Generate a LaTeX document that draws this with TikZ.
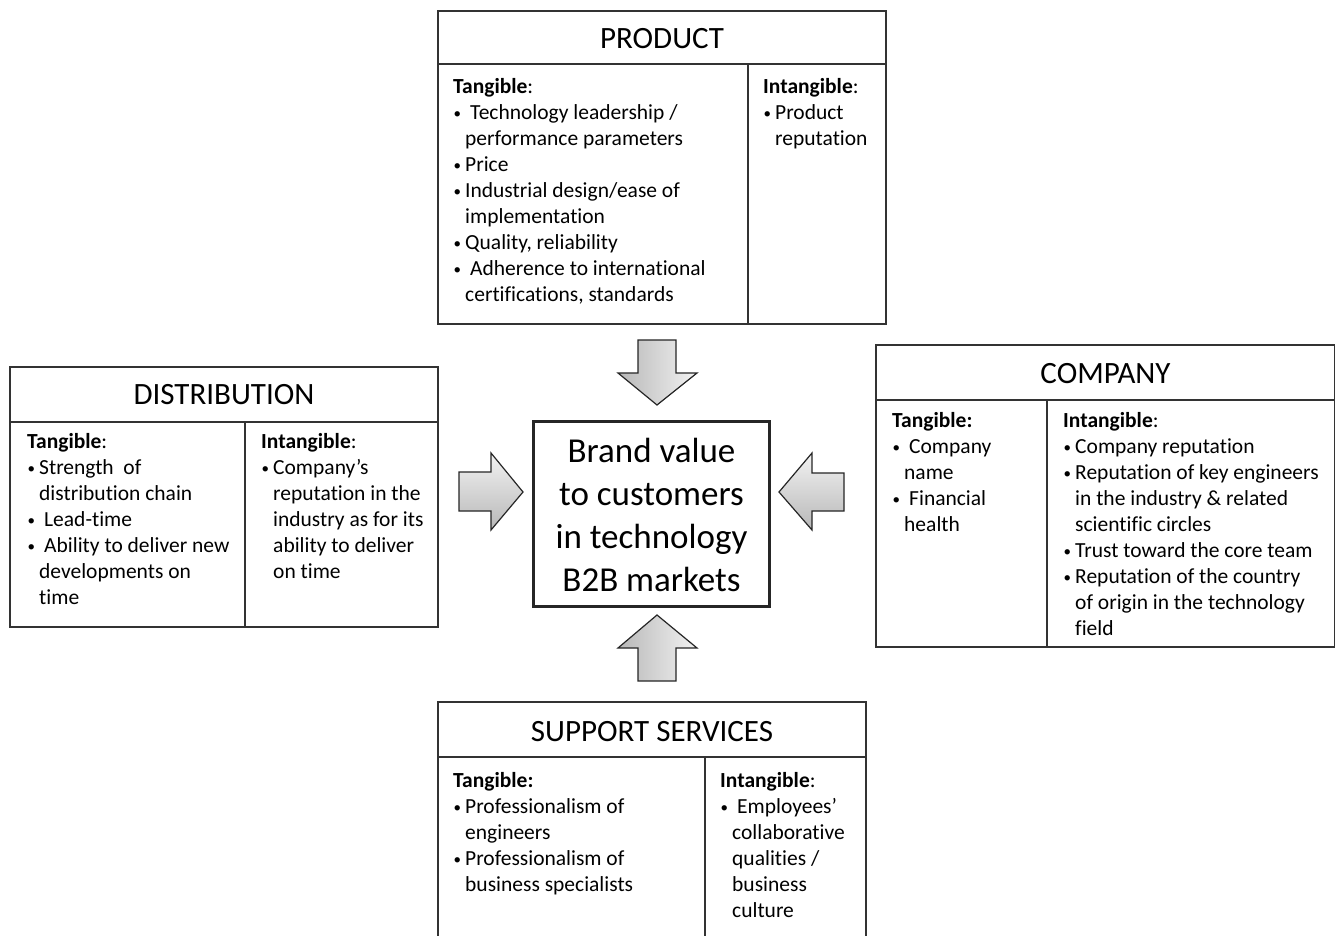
\documentclass[tikz,border=0pt]{standalone}
\usepackage{fontspec}
\setmainfont{Carlito}[RawFeature={-liga}]
\newcommand{\bodyfont}{\fontsize{21.5}{26}\selectfont}
\newcommand{\titlefont}{\fontsize{31}{37}\selectfont}
\newcommand{\bigfont}{\fontsize{35}{43}\selectfont}
\newcommand{\mybul}{\makebox[12pt][l]{\hspace*{0.5pt}\raisebox{0.5pt}{\fontsize{15}{15}\selectfont •}}}
\newcommand{\myind}{\hspace*{12pt}}
\newcommand{\myxs}{\hspace*{5pt}}
\tikzset{
  boxline/.style={draw=black!80, line width=1.5pt},
  coltext/.style={anchor=north west, inner sep=0pt, align=left, font=\bodyfont},
  titletext/.style={inner sep=0pt, font=\titlefont},
  vblock/.style={draw=black!85, line width=1.2pt, left color=black!28, right color=black!5},
  hblock/.style={draw=black!85, line width=1.2pt, top color=black!5, bottom color=black!28},
}
\begin{document}
\begin{tikzpicture}[x=1pt,y=-1pt]
\useasboundingbox (0,0) rectangle (1336,936);
\fill[white] (0,0) rectangle (1336,936);

% PRODUCT
\draw[boxline] (438,11) rectangle (886,324);
\draw[boxline] (438,64) -- (886,64);
\draw[boxline] (748,64) -- (748,324);
\node[titletext] (prodtitle) at (662,39) {PRODUCT};
\node[coltext] (prodtan) at (453,74.8) {\strut\textbf{Tangible}:\\
\mybul\myxs Technology leadership /\\
\myind performance parameters\\
\mybul Price\\
\mybul Industrial design/ease of\\
\myind implementation\\
\mybul Quality, reliability\\
\mybul\myxs Adherence to international\\
\myind certifications, standards};
\node[coltext] (prodint) at (763,74.8) {\strut\textbf{Intangible}:\\
\mybul Product\\
\myind reputation};

% DISTRIBUTION
\draw[boxline] (10,367) rectangle (438,627);
\draw[boxline] (10,422) -- (438,422);
\draw[boxline] (245,422) -- (245,627);
\node[titletext] (disttitle) at (224,395) {DISTRIBUTION};
\node[coltext] (disttan) at (27,429.8) {\strut\textbf{Tangible}:\\
\mybul Strength\ \ of\\
\myind distribution chain\\
\mybul\myxs Lead-time\\
\mybul\myxs Ability to deliver new\\
\myind developments on\\
\myind time};
\node[coltext] (distint) at (261,429.8) {\strut\textbf{Intangible}:\\
\mybul Company’s\\
\myind reputation in the\\
\myind industry as for its\\
\myind ability to deliver\\
\myind on time};

% COMPANY
\draw[boxline] (876,345) rectangle (1334.5,647);
\draw[boxline] (876,400) -- (1334.5,400);
\draw[boxline] (1047,400) -- (1047,647);
\node[titletext] (comptitle) at (1105.5,374) {COMPANY};
\node[coltext] (comptan) at (892,408.8) {\strut\textbf{Tangible:}\\
\mybul\myxs Company\\
\myind name\\
\mybul\myxs Financial\\
\myind health};
\node[coltext] (compint) at (1063,408.8) {\strut\textbf{Intangible}:\\
\mybul Company reputation\\
\mybul Reputation of key engineers\\
\myind in the industry \& related\\
\myind scientific circles\\
\mybul Trust toward the core team\\
\mybul Reputation of the country\\
\myind of origin in the technology\\
\myind field};

% SUPPORT SERVICES
\draw[boxline] (438,702) rectangle (866,950);
\draw[boxline] (438,757) -- (866,757);
\draw[boxline] (705,757) -- (705,950);
\node[titletext] (supptitle) at (652,732) {SUPPORT SERVICES};
\node[coltext] (supptan) at (453,768.8) {\strut\textbf{Tangible:}\\
\mybul Professionalism of\\
\myind engineers\\
\mybul Professionalism of\\
\myind business specialists};
\node[coltext] (suppint) at (720,768.8) {\strut\textbf{Intangible}:\\
\mybul\myxs Employees’\\
\myind collaborative\\
\myind qualities /\\
\myind business\\
\myind culture};

% CENTER
\node[draw=black!85, line width=2.5pt, minimum width=236pt, minimum height=185pt, inner sep=0pt] (brand) at (651.5,514) {};
\node[anchor=north, inner sep=0pt, align=center, font=\bigfont] (brandtext) at (651.5,431.9) {\strut Brand value\\ to customers\\ in technology\\ B2B markets};

% BLOCK ARROWS
\draw[vblock] (638,340) -- (676,340) -- (676,373) -- (697,373) -- (657,405) -- (618,373) -- (638,373) -- cycle;
\draw[hblock] (459,472) -- (491,472) -- (491,453) -- (523,492) -- (491,530) -- (491,511) -- (459,511) -- cycle;
\draw[hblock] (844,473) -- (812,473) -- (812,453) -- (779,492) -- (812,530) -- (812,511) -- (844,511) -- cycle;
\draw[vblock] (657,615) -- (697,648) -- (676,648) -- (676,681) -- (638,681) -- (638,648) -- (618,648) -- cycle;
\end{tikzpicture}
\end{document}
